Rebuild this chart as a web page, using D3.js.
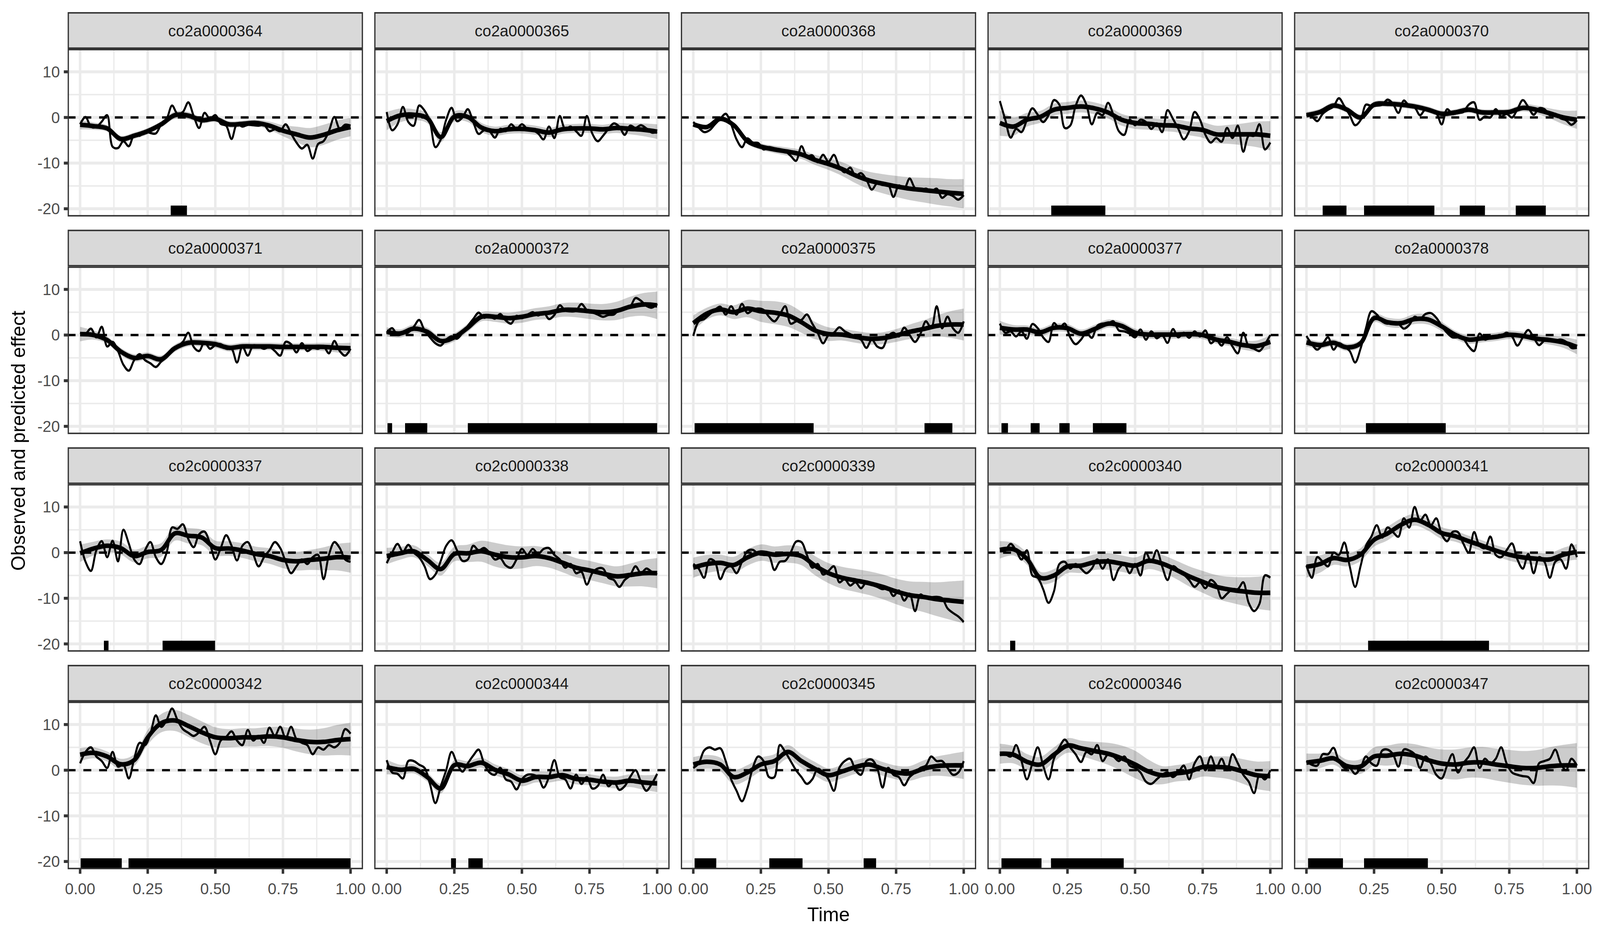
<!DOCTYPE html>
<html>
<head>
<meta charset="utf-8">
<script src="https://cdn.jsdelivr.net/npm/d3@7"></script>
<style>
  html, body { margin: 0; padding: 0; background: #fff; overflow: hidden; }
  #chart { display: block; width: 100vw; height: 100vh; }
  text { font-family: 'Liberation Sans', Arial, Helvetica, sans-serif; }
</style>
</head>
<body>
<svg id="chart" viewBox="0 0 4800 2400" preserveAspectRatio="none"></svg>
<script>
const panelNames = [
  'co2a0000364','co2a0000365','co2a0000368','co2a0000369','co2a0000370',
  'co2a0000371','co2a0000372','co2a0000375','co2a0000377','co2a0000378',
  'co2c0000337','co2c0000338','co2c0000339','co2c0000340','co2c0000341',
  'co2c0000342','co2c0000344','co2c0000345','co2c0000346','co2c0000347'
];

const obsTime = [0,0.02,0.04,0.06,0.08,0.1,0.12,0.14,0.16,0.18,0.2,0.22,0.24,0.26,0.28,0.3,0.32,0.34,0.36,0.38,0.4,
  0.42,0.44,0.46,0.48,0.5,0.52,0.54,0.56,0.58,0.6,0.62,0.64,0.66,0.68,0.7,0.72,0.74,0.76,0.78,0.8,
  0.82,0.84,0.86,0.88,0.9,0.92,0.94,0.96,0.98,1];

const fitTime = [0,0.05,0.1,0.15,0.2,0.25,0.3,0.35,0.4,0.45,0.5,0.55,0.6,0.65,0.7,0.75,0.8,0.85,0.9,0.95,1];

// observed effect, one row per panel (same order as panelNames)
const observed = [
  [-1.5,0.1,-2.0,-2.1,-0.9,0.5,-6.4,-6.7,-5.2,-6.3,-3.8,-4.0,-3.0,-3.4,-3.5,-1.5,-0.3,2.6,0.8,1.2,3.3,0.3,-2.3,1.0,-0.3,0.5,-1.4,-1.8,-4.7,-1.4,-2.0,-1.6,-1.7,-1.8,-1.6,-3.0,-2.6,-3.0,-1.5,-3.5,-5.5,-6.8,-6.0,-9.0,-5.8,-5.2,-3.0,0.1,-2.5,-1.6,-1.8],
  [1.2,-2.8,-1.5,2.3,-1.0,-1.8,2.6,1.5,-1.0,-6.5,-4.8,-0.5,2.1,-0.8,0.0,1.8,-1.0,-3.6,-2.8,-3.0,-4.4,-2.5,-3.0,-1.5,-2.5,-1.5,-2.5,-2.8,-3.5,-4.8,-2.0,-4.5,0.3,-2.6,-2.0,-3.0,-4.0,0.3,-3.5,-5.2,-4.0,-2.5,-1.3,-2.0,-3.8,-1.8,-2.3,-1.7,-2.4,-3.3,-3.2],
  [-1.0,-2.2,-3.2,-2.8,-1.5,-0.3,0.8,-1.5,-4.8,-6.5,-4.6,-5.5,-5.6,-7.0,-6.5,-6.8,-7.3,-7.4,-8.4,-9.5,-6.3,-8.5,-8.3,-9.8,-8.2,-9.7,-8.2,-10.8,-12.0,-11.0,-12.8,-12.2,-13.6,-15.8,-14.4,-14.8,-14.6,-17.4,-14.9,-15.6,-13.4,-15.5,-16.0,-15.6,-16.2,-15.6,-17.6,-16.8,-17.2,-18.0,-17.0],
  [3.6,-0.5,-4.4,-2.5,-3.2,-0.5,2.0,0.6,-1.0,0.5,3.8,2.8,-2.3,-1.8,2.5,4.8,2.8,-1.5,1.0,0.5,3.2,0.5,-3.0,-3.8,-0.5,-1.7,-0.5,-1.0,-2.5,-1.3,-3.2,1.6,-0.3,-2.5,-4.8,-3.0,1.2,-0.5,-3.8,-5.5,-4.5,-5.3,-2.3,-4.5,-1.8,-7.5,-4.0,-4.0,-1.5,-7.0,-5.5],
  [0.6,0.2,-0.8,0.8,1.7,2.4,4.2,2.5,0.5,-1.7,-0.6,2.8,2.5,2.6,2.8,3.9,3.0,1.0,3.7,2.5,2.2,0.5,1.8,1.4,1.0,-1.5,1.8,0.8,1.0,1.2,2.8,3.3,-0.5,0.2,0.0,1.8,0.2,0.8,0.0,1.8,3.8,2.3,0.6,2.0,1.8,0.5,0.8,-0.2,-0.6,-1.6,-0.6],
  [0.5,0.3,1.4,-0.5,1.8,-2.5,-1.5,-3.5,-6.5,-7.8,-5.5,-4.2,-5.5,-6.2,-7.0,-5.8,-4.8,-3.0,-2.5,-1.5,0.5,-2.6,-3.5,-1.5,-3.0,-2.2,-2.0,-3.0,-3.0,-6.0,-2.5,-4.5,-2.3,-2.5,-3.0,-2.6,-3.5,-4.5,-1.5,-2.0,-3.8,-1.8,-3.5,-2.8,-3.0,-2.5,-4.0,-1.3,-3.5,-4.5,-3.0],
  [0.5,1.5,0.0,0.3,0.6,1.8,3.3,1.0,-0.5,-1.8,-2.3,-1.0,-0.3,-0.8,0.5,2.0,3.5,4.9,3.8,4.2,3.6,4.6,3.2,2.5,4.2,3.7,4.4,5.0,4.3,5.0,3.5,4.4,6.5,5.4,5.2,5.3,6.8,5.5,5.0,4.5,4.0,4.4,4.5,5.6,5.8,6.2,8.1,7.5,6.4,6.0,6.8],
  [-0.2,3.0,3.5,4.5,5.5,6.2,4.5,6.3,4.5,6.8,4.8,5.5,5.8,5.5,4.0,3.0,4.5,6.3,2.5,3.0,3.3,4.5,2.5,0.5,-1.8,0.0,0.5,1.7,0.8,0.2,-0.5,-1.0,-2.8,-1.0,-2.5,-2.8,-0.3,0.5,-0.3,1.6,0.0,-1.5,0.3,3.0,1.5,6.3,1.5,4.0,1.5,0.5,3.0],
  [2.5,0.5,0.8,-0.3,0.8,-0.8,2.4,1.5,-0.5,-1.5,2.6,1.5,2.5,-0.5,-2.0,-1.0,0.5,-0.6,2.0,2.5,2.5,3.0,1.0,0.8,0.3,-0.5,1.2,-1.0,0.8,-0.7,0.0,-1.7,1.3,-0.5,0.5,-0.6,0.8,-0.3,1.0,-1.8,-1.0,-2.3,-0.5,-2.5,-4.0,0.5,-2.5,-3.0,-3.5,-2.0,0.0],
  [-0.2,-2.0,-3.2,-2.0,-0.5,-3.2,-1.8,-2.5,-3.5,-6.0,-3.0,1.5,5.2,4.5,3.0,2.5,2.8,2.5,1.4,2.2,4.0,3.5,4.6,4.8,3.8,2.0,0.5,-0.5,-0.5,-0.8,-2.5,-3.5,0.3,-1.0,-0.5,-0.3,-0.2,0.5,-0.3,-2.3,-0.5,1.1,-0.5,-2.2,-1.2,-1.0,-1.2,-1.0,-1.5,-2.8,-2.8],
  [2.5,-2.0,-4.0,0.5,2.5,-1.0,2.6,-1.9,5.0,2.0,-1.5,-2.5,0.5,2.3,-1.0,-2.5,0.0,5.5,5.2,6.2,3.0,1.2,4.0,4.6,2.0,-1.5,1.0,3.8,1.5,-1.7,1.5,2.3,-0.3,-3.0,-1.0,0.5,2.3,1.0,-2.0,-4.5,-3.0,-1.5,-2.5,-1.0,-0.5,-5.8,-0.5,2.3,1.0,-1.5,-2.0],
  [-2.3,0.0,1.9,0.2,1.7,0.0,-1.0,-3.0,-5.8,-4.8,-1.8,1.5,2.7,0.5,-1.8,-1.5,1.5,0.5,1.0,0.0,-1.5,-1.2,-2.8,-3.3,-1.5,0.8,-0.5,0.8,-0.3,0.8,1.0,-0.5,-1.5,-3.3,-2.5,-4.5,-4.2,-7.0,-4.5,-3.5,-3.5,-5.5,-6.0,-7.5,-6.0,-5.0,-3.0,-4.5,-3.5,-4.2,-4.8],
  [-2.5,-3.5,-5.5,-1.5,-2.0,-5.8,-3.5,-3.0,-4.5,-2.0,0.3,0.6,-0.3,-0.5,-0.7,-3.8,-2.0,-1.8,0.0,2.4,2.3,-0.5,-3.3,-2.5,-4.8,-4.0,-3.0,-6.5,-5.8,-7.2,-6.5,-7.8,-6.5,-7.0,-7.5,-8.0,-7.8,-9.5,-8.3,-10.5,-9.0,-12.8,-9.2,-10.0,-9.8,-9.7,-10.0,-12.2,-13.2,-14.0,-15.2],
  [0.3,0.5,1.9,0.5,-1.5,0.5,-5.0,-5.5,-8.0,-11.0,-8.5,-2.5,-2.0,-3.5,-2.5,-3.5,-4.5,-3.5,-1.5,-3.5,-1.5,-6.0,-3.5,-2.5,-4.5,-2.5,-5.0,0.0,-2.0,0.5,-3.0,-6.0,-3.0,-3.8,-4.8,-6.0,-7.5,-6.5,-7.8,-6.0,-7.0,-10.0,-9.0,-8.0,-8.0,-6.5,-11.0,-12.8,-11.2,-5.0,-5.5],
  [-2.8,-5.5,-1.0,-2.0,-3.0,0.0,-0.5,2.2,-3.0,-7.5,-3.0,1.5,3.5,6.0,3.3,5.5,4.5,3.5,7.5,5.5,10.0,7.0,8.3,6.0,7.5,4.0,2.5,4.5,4.5,2.0,0.0,4.5,1.5,1.0,3.5,-0.5,-1.0,0.5,2.0,-1.5,-3.5,-0.3,-4.5,-1.0,-2.0,-5.5,-2.0,-1.5,-3.5,1.8,-1.0],
  [1.5,4.0,5.0,3.0,2.0,0.5,4.0,0.8,1.2,-1.8,2.5,6.0,5.5,8.0,12.0,9.5,11.0,13.5,11.0,9.0,8.2,7.5,8.3,9.5,6.5,3.5,6.5,7.3,8.5,6.5,5.5,8.8,6.5,7.5,6.0,9.3,7.5,9.5,7.0,9.5,6.8,6.0,5.5,3.5,5.0,4.5,5.5,5.0,6.0,9.0,8.0],
  [2.2,-0.5,-0.8,-1.8,2.0,2.0,1.2,0.5,-3.0,-7.2,-3.5,0.0,4.0,1.5,-0.3,1.5,3.2,4.5,1.5,-0.5,-1.0,0.5,-2.0,-2.5,-4.2,-2.0,-1.0,-1.0,-1.5,-3.8,-1.5,2.2,-1.5,-2.0,-4.0,-1.0,-3.0,-1.5,-4.0,-3.5,-1.0,-3.5,-2.5,-4.3,-3.5,-1.5,0.0,-2.5,-4.5,-3.0,-0.8],
  [0.5,1.5,4.3,5.0,4.5,4.8,2.0,-2.0,-4.5,-6.8,-4.0,0.5,3.0,2.0,-1.5,-1.5,5.5,4.0,2.0,0.0,-1.5,-3.0,-2.0,0.3,-0.5,-2.0,-4.5,0.5,2.0,2.5,0.0,-1.0,2.0,2.3,0.5,-3.8,0.5,-1.0,-1.5,-3.3,-1.5,-0.5,0.5,1.0,3.0,2.0,2.0,0.5,-1.0,-0.5,2.0],
  [3.3,3.5,3.0,5.5,2.0,-2.0,1.5,5.0,1.0,-2.0,2.5,5.0,6.7,5.0,3.5,1.8,4.0,3.5,5.5,2.0,3.5,3.0,2.0,3.0,1.0,0.5,-0.5,-2.5,-3.0,-2.0,-1.0,-0.5,-1.5,-0.5,1.0,-2.0,1.5,3.0,0.0,3.0,0.5,2.5,0.0,3.5,1.5,-1.0,-2.5,-5.0,-1.0,-2.0,0.0],
  [2.0,1.2,1.0,3.5,3.5,4.9,2.0,0.5,0.5,-0.8,0.5,3.0,1.5,1.0,4.3,4.5,3.5,0.8,4.5,4.3,3.5,0.5,3.0,1.5,-1.0,-1.8,1.0,3.5,-0.5,1.5,3.0,5.0,0.5,2.5,1.5,2.5,5.0,1.5,-0.5,-1.0,-1.3,-1.5,-2.8,1.5,2.0,2.5,4.5,1.5,0.0,2.5,1.0]
];

// predicted (smooth) effect at fitTime
const fitted = [
  [-1.6,-1.9,-2.4,-4.7,-4.0,-3.0,-1.5,0.5,0.4,-0.6,-0.3,-1.5,-1.4,-1.2,-1.8,-2.9,-3.7,-4.4,-3.8,-2.8,-2.1],
  [-0.8,0.45,0.6,-0.15,-4.3,0.2,0.1,-2.2,-3.0,-2.6,-2.5,-2.8,-3.3,-2.6,-2.4,-2.4,-2.6,-2.3,-2.5,-2.7,-3.1],
  [-1.5,-2.1,-0.3,-1.7,-5.2,-6.4,-7.0,-7.5,-8.1,-9.3,-10.2,-11.3,-12.7,-13.8,-14.5,-15.1,-15.6,-15.9,-16.2,-16.5,-16.7],
  [-1.2,-2.0,-0.5,0.15,1.7,2.1,2.4,2.0,1.1,-0.5,-1.2,-1.4,-1.7,-1.8,-2.4,-2.75,-3.7,-3.7,-3.7,-3.7,-4.0],
  [0.5,1.2,2.6,1.7,0.0,2.8,3.0,2.8,2.4,1.7,0.8,1.1,1.7,1.1,1.1,1.2,2.1,1.7,0.9,0.0,-0.5],
  [0.2,0.0,-1.1,-3.6,-5.0,-4.6,-5.3,-2.9,-1.7,-1.7,-2.0,-2.8,-2.5,-2.5,-2.5,-2.6,-2.6,-2.6,-2.6,-2.8,-2.9],
  [0.7,0.35,1.4,0.7,-1.3,-0.5,1.6,4.0,4.0,3.7,4.0,4.6,4.9,5.5,5.5,5.2,5.0,5.3,6.2,6.7,6.5],
  [2.6,4.7,5.6,5.0,5.8,5.2,4.9,4.3,2.8,1.0,0.2,0.1,-0.4,-0.8,-0.7,-0.1,0.7,1.3,2.0,2.3,2.3],
  [1.6,1.2,1.2,0.6,1.6,1.5,0.3,1.3,2.5,2.0,0.5,0.1,0.1,0.1,0.2,0.0,-1.0,-1.5,-2.2,-2.4,-1.5],
  [-1.6,-2.2,-1.7,-2.7,-1.8,3.7,2.8,2.6,3.5,3.4,1.9,0.05,-1.0,-0.7,-0.4,0.05,-0.2,-0.8,-1.1,-1.6,-2.6],
  [-0.15,0.9,1.5,1.0,-0.75,0.15,0.6,4.2,3.7,3.3,1.0,0.9,0.45,-0.3,-0.75,-1.6,-1.9,-1.6,-1.35,-1.0,-1.1],
  [-0.75,-0.15,0.3,-1.6,-3.6,-0.3,-0.15,0.3,-0.45,-1.0,-1.05,-0.75,-1.2,-2.2,-3.3,-3.9,-4.6,-5.2,-4.9,-4.5,-4.5],
  [-3.3,-2.5,-2.25,-2.7,-1.05,0.0,-0.45,-0.3,-0.75,-2.85,-4.5,-5.5,-6.1,-6.7,-7.5,-8.5,-9.3,-9.7,-10.2,-10.5,-10.8],
  [0.6,0.75,-1.35,-5.5,-5.0,-3.0,-2.85,-2.1,-1.95,-2.4,-2.85,-1.8,-2.4,-3.7,-5.2,-6.4,-7.5,-8.1,-8.5,-8.8,-8.8],
  [-3.1,-2.5,-1.2,-1.6,-0.45,2.8,4.2,6.1,7.2,6.1,4.3,3.6,2.5,1.5,0.45,-0.45,-1.05,-1.35,-1.5,-0.45,0.15],
  [3.4,3.8,3.0,1.3,2.2,7.2,10.3,10.9,9.7,8.3,7.2,7.0,7.2,7.2,7.4,7.2,6.6,6.2,6.2,6.6,6.8],
  [0.7,0.1,0.3,-1.5,-4.0,1.1,0.9,1.65,0.1,-0.9,-2.3,-1.5,-1.5,-1.1,-1.9,-2.1,-2.5,-2.7,-2.3,-2.7,-2.9],
  [1.25,1.85,1.25,-1.5,-0.5,1.25,2.0,4.0,2.0,0.3,-1.1,-0.3,0.7,1.25,0.3,-0.5,-0.7,0.3,0.9,1.05,1.05],
  [3.6,3.4,1.85,1.25,3.4,5.4,4.8,4.2,3.6,2.6,1.25,-0.3,-1.1,-0.7,-0.3,0.7,0.7,0.5,-0.3,-1.1,-1.3],
  [1.65,2.05,2.6,0.9,0.8,3.0,3.2,3.6,3.2,2.2,1.45,1.25,1.65,1.7,1.25,0.85,0.5,0.5,0.85,1.05,1.05]
];

// half width of the confidence band at fitTime
const halfWidth = [
  [1.0,0.8,0.7,0.7,0.7,0.7,0.7,0.8,0.8,0.7,0.7,0.7,0.7,0.7,0.9,1.2,1.7,2.1,2.2,2.1,2.0],
  [2.0,1.5,1.2,1.1,1.1,1.1,1.1,1.0,1.0,1.0,1.0,1.0,1.0,1.0,1.0,1.0,1.0,1.1,1.2,1.4,1.6],
  [0.6,0.5,0.5,0.5,0.6,0.7,0.8,0.9,1.0,1.1,1.3,1.5,1.7,1.9,2.1,2.3,2.5,2.7,2.9,3.0,3.2],
  [2.8,2.0,1.5,1.3,1.3,1.3,1.3,1.3,1.3,1.3,1.3,1.3,1.3,1.4,1.5,1.7,1.9,2.1,2.4,2.8,3.2],
  [0.7,0.7,0.7,0.7,0.7,0.7,0.7,0.7,0.7,0.7,0.7,0.7,0.7,0.7,0.7,0.7,0.8,0.9,1.1,1.5,2.0],
  [1.6,1.0,0.8,0.8,0.8,0.8,0.8,0.8,0.8,0.8,0.8,0.8,0.8,0.8,0.8,0.8,0.8,0.8,0.9,1.0,1.2],
  [1.0,0.9,0.9,0.9,0.9,0.9,0.9,1.0,1.1,1.2,1.3,1.3,1.4,1.5,1.6,1.7,1.8,2.0,2.2,2.5,3.0],
  [1.7,1.3,1.3,1.5,1.9,2.3,2.5,2.5,2.3,1.9,1.5,1.3,1.3,1.3,1.3,1.4,1.6,1.9,2.3,2.9,3.5],
  [1.5,1.0,0.9,0.9,0.9,0.9,0.9,0.9,0.9,0.9,0.9,0.9,0.9,0.9,0.9,0.9,0.9,0.9,1.0,1.2,1.5],
  [0.9,0.8,0.8,0.8,0.8,0.9,1.0,1.0,1.1,1.1,1.0,0.9,0.9,0.9,0.9,0.9,0.9,0.9,1.0,1.2,1.6],
  [1.9,1.5,1.4,1.4,1.4,1.4,1.5,1.6,1.7,1.7,1.6,1.6,1.6,1.6,1.7,1.8,2.0,2.2,2.5,2.9,3.3],
  [1.8,1.4,1.3,1.3,1.4,1.6,1.9,2.3,2.6,2.6,2.4,2.2,2.1,2.1,2.1,2.1,2.1,2.2,2.5,2.9,3.3],
  [2.2,2.0,1.8,1.8,1.8,1.8,1.8,1.9,2.0,2.1,2.2,2.4,2.5,2.6,2.7,2.8,3.0,3.3,3.7,4.2,4.7],
  [1.9,1.4,1.3,1.3,1.4,1.5,1.6,1.7,1.8,1.8,1.8,1.8,1.9,2.0,2.2,2.4,2.6,2.8,3.1,3.5,3.9],
  [2.4,1.9,1.5,1.4,1.4,1.5,1.5,1.4,1.3,1.3,1.3,1.2,1.2,1.2,1.2,1.3,1.3,1.3,1.4,1.5,1.7],
  [1.4,1.2,1.1,1.2,1.3,1.6,2.0,2.3,2.4,2.4,2.2,2.0,2.0,2.0,2.1,2.3,2.5,2.7,3.0,3.3,3.6],
  [1.6,1.1,1.0,1.0,1.1,1.1,1.1,1.1,1.2,1.2,1.2,1.2,1.2,1.2,1.2,1.2,1.2,1.3,1.4,1.6,1.9],
  [1.6,1.5,1.5,1.6,1.6,1.5,1.5,1.5,1.5,1.5,1.5,1.5,1.5,1.5,1.5,1.5,1.6,1.8,2.1,2.5,3.0],
  [2.2,1.9,1.7,1.7,1.6,1.6,1.7,2.0,2.4,2.8,3.0,2.6,2.0,1.8,1.9,2.1,2.3,2.5,2.7,3.0,3.3],
  [2.0,1.6,1.4,1.4,1.6,2.0,2.2,2.3,2.5,2.8,3.1,3.3,3.3,3.4,3.5,3.6,3.7,3.9,4.2,4.5,4.9]
];

// time intervals flagged as significant (black bars at the bottom)
const sigIntervals = [
  [[0.335,0.395]],
  [],
  [],
  [[0.19,0.39]],
  [[0.06,0.148],[0.213,0.473],[0.567,0.66],[0.774,0.885]],
  [],
  [[0.003,0.02],[0.068,0.15],[0.30,1.0]],
  [[0.005,0.445],[0.855,0.958]],
  [[0.006,0.03],[0.114,0.147],[0.22,0.258],[0.344,0.468]],
  [[0.22,0.515]],
  [[0.088,0.105],[0.305,0.499]],
  [],
  [],
  [[0.038,0.057]],
  [[0.228,0.675]],
  [[0.002,0.154],[0.179,1.0]],
  [[0.238,0.256],[0.302,0.355]],
  [[0.005,0.085],[0.281,0.404],[0.63,0.676]],
  [[0.006,0.154],[0.189,0.458]],
  [[0.006,0.135],[0.213,0.449]]
];

const xTicks = [0, 0.25, 0.5, 0.75, 1];
const xMinor = [0.125, 0.375, 0.625, 0.875];
const yTicks = [-20, -10, 0, 10];
const yMinor = [-15, -5, 5, 15];
const barTop = -19.3;

// layout (viewBox units, chart designed at 4800 x 2400)
const plotLeft = 203, plotTop = 31;
const panelW = 886, panelH = 429, stripH = 94;
const gapX = 33.75, gapY = 33.7;
const nCols = 5;
const lw = 7.54;          // base line size (theme_bw, base 14 @300dpi)
const lineThin = 5.9;
const lineThick = 11.8;
const tickLen = 11.5;

// the svg is stretched to the window; undo the stretch on glyphs
let stretch = (window.innerHeight / 2400) / (window.innerWidth / 4800);
if (!isFinite(stretch) || stretch <= 0) stretch = 1;
const glyph = `scale(1, ${1 / stretch})`;

let svg = d3.select('#chart');

let x = d3.scaleLinear().domain([-0.046, 1.046]).range([0, panelW]);
let y = d3.scaleLinear().domain([-21.7, 15.03]).range([panelH, 0]);

let defs = svg.append('defs');
defs.append('clipPath')
  .attr('id', 'panel-clip')
  .append('rect')
  .attr('width', panelW)
  .attr('height', panelH);

let nRows = Math.ceil(panelNames.length / nCols);

svg.append('rect')
  .attr('width', 4800)
  .attr('height', 2400)
  .attr('fill', '#fff');

panelNames.forEach((name, i) => {
  let col = i % nCols,
      row = Math.floor(i / nCols);
  let px = plotLeft + col * (panelW + gapX);
  let sy = plotTop + row * (stripH + panelH + gapY);
  buildStrip(name, px, sy);
  buildPanel(i, px, sy + stripH, col, row);
});

buildTitles();

function buildStrip(name, px, sy) {
  let g = svg.append('g')
    .attr('transform', `translate(${px}, ${sy})`);

  g.append('rect')
    .attr('x', lw / 4)
    .attr('y', lw / 4)
    .attr('width', panelW - lw / 2)
    .attr('height', stripH - lw / 2)
    .attr('fill', '#D9D9D9')
    .attr('stroke', '#333333')
    .attr('stroke-width', lw / 2);

  g.append('text')
    .attr('transform', `translate(${panelW / 2}, ${stripH / 2}) ${glyph}`)
    .attr('y', 17)
    .attr('text-anchor', 'middle')
    .attr('fill', '#1A1A1A')
    .style('font-size', '46.7px')
    .text(name);
}

function buildPanel(i, px, py, col, row) {
  let g = svg.append('g')
    .attr('transform', `translate(${px}, ${py})`);

  let inner = g.append('g')
    .attr('clip-path', 'url(#panel-clip)');

  inner.append('rect')
    .attr('width', panelW)
    .attr('height', panelH)
    .attr('fill', '#fff');

  // grid
  inner.selectAll('line.ymin')
    .data(yMinor)
    .enter()
    .append('line')
    .attr('x1', 0).attr('x2', panelW)
    .attr('y1', d => y(d)).attr('y2', d => y(d))
    .attr('stroke', '#EBEBEB')
    .attr('stroke-width', lw / 2);

  inner.selectAll('line.xmin')
    .data(xMinor)
    .enter()
    .append('line')
    .attr('y1', 0).attr('y2', panelH)
    .attr('x1', d => x(d)).attr('x2', d => x(d))
    .attr('stroke', '#EBEBEB')
    .attr('stroke-width', lw / 2);

  inner.selectAll('line.ymaj')
    .data(yTicks)
    .enter()
    .append('line')
    .attr('x1', 0).attr('x2', panelW)
    .attr('y1', d => y(d)).attr('y2', d => y(d))
    .attr('stroke', '#EBEBEB')
    .attr('stroke-width', lw);

  inner.selectAll('line.xmaj')
    .data(xTicks)
    .enter()
    .append('line')
    .attr('y1', 0).attr('y2', panelH)
    .attr('x1', d => x(d)).attr('x2', d => x(d))
    .attr('stroke', '#EBEBEB')
    .attr('stroke-width', lw);

  // confidence band
  let band = fitTime.map((t, k) => ({
    t: t,
    lo: fitted[i][k] - halfWidth[i][k],
    hi: fitted[i][k] + halfWidth[i][k]
  }));

  let area = d3.area()
    .curve(d3.curveCatmullRom)
    .x(d => x(d.t))
    .y0(d => y(d.lo))
    .y1(d => y(d.hi));

  inner.append('path')
    .attr('d', area(band))
    .attr('fill', '#000')
    .attr('fill-opacity', 0.2);

  // zero line
  inner.append('line')
    .attr('x1', 0).attr('x2', panelW)
    .attr('y1', y(0)).attr('y2', y(0))
    .attr('stroke', '#000')
    .attr('stroke-width', lineThin)
    .attr('stroke-dasharray', '23.6 23.6');

  // significant intervals
  inner.selectAll('rect.sig')
    .data(sigIntervals[i])
    .enter()
    .append('rect')
    .attr('class', 'sig')
    .attr('x', d => x(d[0]))
    .attr('width', d => x(d[1]) - x(d[0]))
    .attr('y', y(barTop))
    .attr('height', panelH - y(barTop))
    .attr('fill', '#000');

  // observed
  let obsLine = d3.line()
    .curve(d3.curveCatmullRom)
    .x((d, k) => x(obsTime[k]))
    .y(d => y(d));

  inner.append('path')
    .attr('d', obsLine(observed[i]))
    .attr('fill', 'none')
    .attr('stroke', '#000')
    .attr('stroke-width', lineThin)
    .attr('stroke-linejoin', 'round');

  // predicted
  let fitLine = d3.line()
    .curve(d3.curveCatmullRom)
    .x((d, k) => x(fitTime[k]))
    .y(d => y(d));

  inner.append('path')
    .attr('d', fitLine(fitted[i]))
    .attr('fill', 'none')
    .attr('stroke', '#000')
    .attr('stroke-width', lineThick)
    .attr('stroke-linejoin', 'round');

  // border (clipped, so only the inner half shows)
  g.append('rect')
    .attr('x', lw / 4)
    .attr('y', lw / 4)
    .attr('width', panelW - lw / 2)
    .attr('height', panelH - lw / 2)
    .attr('fill', 'none')
    .attr('stroke', '#333333')
    .attr('stroke-width', lw / 2);

  if (col === 0) {
    let ax = g.append('g');
    ax.selectAll('line')
      .data(yTicks)
      .enter()
      .append('line')
      .attr('x1', -tickLen).attr('x2', 0)
      .attr('y1', d => y(d)).attr('y2', d => y(d))
      .attr('stroke', '#333333')
      .attr('stroke-width', lw);
    ax.selectAll('text')
      .data(yTicks)
      .enter()
      .append('text')
      .attr('transform', d => `translate(${-tickLen - 11.7}, ${y(d)}) ${glyph}`)
      .attr('y', 16.5)
      .attr('text-anchor', 'end')
      .attr('fill', '#4D4D4D')
      .style('font-size', '46.7px')
      .text(d => d);
  }

  if (row === nRows - 1) {
    let ax = g.append('g')
      .attr('transform', `translate(0, ${panelH})`);
    ax.selectAll('line')
      .data(xTicks)
      .enter()
      .append('line')
      .attr('y1', 0).attr('y2', tickLen)
      .attr('x1', d => x(d)).attr('x2', d => x(d))
      .attr('stroke', '#333333')
      .attr('stroke-width', lw);
    ax.selectAll('text')
      .data(xTicks)
      .enter()
      .append('text')
      .attr('transform', d => `translate(${x(d)}, 64) ${glyph}`)
      .attr('text-anchor', 'middle')
      .attr('fill', '#4D4D4D')
      .style('font-size', '46.7px')
      .text(d => d3.format('.2f')(d));
  }
}

function buildTitles() {
  let plotRight = plotLeft + nCols * panelW + (nCols - 1) * gapX;
  let plotBottom = plotTop + nRows * (stripH + panelH) + (nRows - 1) * gapY;

  svg.append('text')
    .attr('transform', `translate(${(plotLeft + plotRight) / 2}, ${plotBottom + 133}) ${glyph}`)
    .attr('text-anchor', 'middle')
    .attr('fill', '#000')
    .style('font-size', '58.3px')
    .text('Time');

  svg.append('text')
    .attr('transform', `translate(75, ${(plotTop + plotBottom) / 2}) ${glyph} rotate(-90)`)
    .attr('text-anchor', 'middle')
    .attr('fill', '#000')
    .style('font-size', '58.3px')
    .text('Observed and predicted effect');
}
</script>
</body>
</html>
